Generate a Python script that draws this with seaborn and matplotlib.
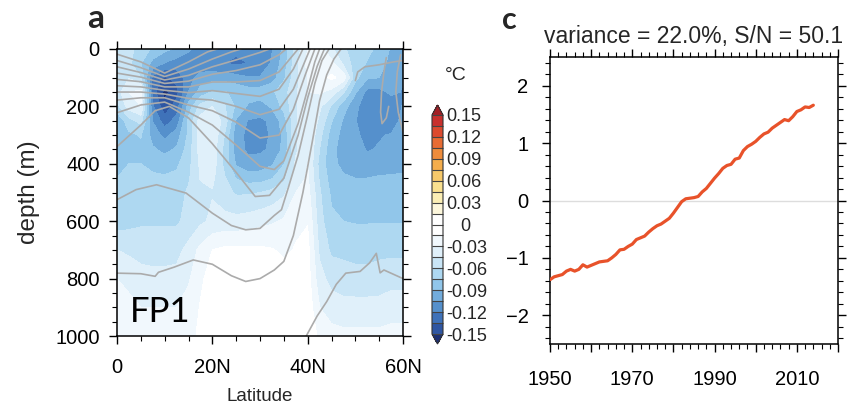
import numpy as np
import matplotlib
matplotlib.use("Agg")
import matplotlib.pyplot as plt
import seaborn as sns
from matplotlib.ticker import MultipleLocator, FixedLocator, FixedFormatter

# ---------------- data ----------------
lats = [0, 2.5, 5, 7.5, 10, 12.5, 15, 17.5, 20, 22.5, 25, 27.5, 30, 32.5, 35,
        37.5, 40, 42.5, 45, 47.5, 50, 52.5, 55, 57.5, 60]
depths = [0, 50, 100, 150, 200, 250, 300, 350, 400, 450, 500, 600, 700, 800, 900, 1000]
# temperature anomaly pattern FP1, in 0.001 degC (rows = depths, cols = lats)
fp1_mK = [
    [-52, -56, -66, -78, -86, -93, -103, -110, -113, -116, -118, -118, -116, -106, -86, -55, -30, -25, -42, -58, -66, -72, -78, -92, -100],
    [-52, -56, -74, -95, -106, -112, -113, -116, -118, -120, -122, -120, -116, -103, -83, -50, -25, -18, -25, -48, -68, -76, -82, -96, -104],
    [-50, -46, -60, -125, -138, -130, -112, -98, -96, -96, -100, -104, -104, -97, -78, -50, -30, -22, -12, -20, -70, -88, -90, -96, -104],
    [-52, -30, -25, -128, -155, -140, -105, -84, -74, -74, -78, -83, -83, -78, -66, -48, -30, -28, -35, -58, -88, -110, -110, -102, -106],
    [-65, -38, -30, -118, -145, -128, -84, -55, -45, -58, -78, -92, -96, -88, -70, -48, -30, -42, -62, -84, -100, -118, -112, -114, -104],
    [-88, -66, -55, -106, -128, -114, -72, -38, -32, -50, -92, -106, -108, -102, -82, -48, -30, -48, -74, -92, -104, -116, -108, -114, -100],
    [-92, -78, -74, -96, -110, -98, -72, -38, -32, -60, -100, -108, -108, -104, -86, -48, -30, -55, -82, -95, -102, -110, -106, -104, -96],
    [-88, -80, -78, -88, -94, -88, -68, -38, -36, -64, -98, -108, -108, -102, -86, -48, -30, -60, -86, -96, -100, -106, -104, -100, -96],
    [-80, -75, -75, -78, -82, -78, -65, -42, -36, -64, -92, -100, -98, -92, -76, -42, -30, -65, -86, -94, -98, -100, -100, -96, -94],
    [-75, -70, -70, -73, -73, -71, -62, -44, -42, -58, -76, -82, -82, -76, -64, -38, -28, -62, -82, -88, -90, -90, -88, -88, -88],
    [-68, -62, -62, -66, -66, -66, -58, -50, -46, -54, -62, -62, -60, -56, -48, -30, -24, -58, -78, -82, -82, -82, -82, -82, -82],
    [-68, -65, -62, -62, -62, -62, -56, -48, -42, -40, -40, -38, -35, -32, -28, -18, -16, -54, -72, -75, -76, -76, -76, -76, -76],
    [-45, -48, -52, -52, -52, -50, -40, -26, -15, -12, -12, -12, -12, -14, -18, -14, -10, -48, -63, -64, -66, -66, -64, -64, -64],
    [-30, -34, -38, -40, -40, -40, -32, -18, -8, -5, -5, -5, -5, -5, -8, -10, -8, -40, -50, -53, -54, -54, -53, -50, -50],
    [-22, -26, -30, -30, -30, -30, -24, -14, -5, -5, -5, -5, -5, -5, -5, -5, -5, -30, -38, -40, -40, -40, -40, -38, -38],
    [-18, -20, -22, -22, -22, -22, -20, -12, -5, -5, -5, -5, -5, -5, -5, -5, -5, -18, -24, -26, -26, -26, -26, -24, -24],
]

# climatological isotherms (grey lines): latitude / depth of points along each line
iso_lat = [
    [0, 5, 10, 15, 19, 21],
    [0, 5, 10, 15, 20, 24, 26],
    [0, 5, 10, 15, 20, 25, 30, 32],
    [0, 5, 10, 15, 20, 25, 30, 34, 35.5],
    [0, 5, 10, 15, 20, 25, 30, 34, 36.5, 38],
    [0, 5, 10, 15, 20, 25, 30, 34, 37, 39],
    [0, 5, 10, 15, 20, 25, 30, 34, 37, 39, 40.5],
    [0, 5, 10, 15, 20, 25, 30, 34, 37, 39.5, 41.5],
    [0, 5, 10, 15, 20, 25, 30, 33, 35, 38, 40, 41.5, 42.5],
    [0, 5, 8, 11, 15, 20, 25, 29, 32, 35, 38, 40, 42, 43.5],
    [0, 4, 8.3, 14.5, 20, 24, 27, 30, 33, 34.5, 36, 38, 40, 41.5, 43, 44.5],
    [0, 5, 8, 8.7, 12, 16, 20, 24, 27, 30, 33, 35, 37, 39, 41, 42.5, 44, 45.5, 47],
    [39.7, 42, 44, 46, 48, 51, 53, 54.4, 55.2, 56, 58, 60],
    [50, 50.5, 52, 55, 58, 60],
    [56.5, 56, 55.5, 55.3, 55.6, 56.5, 57],
    [59.5, 58.8, 58.5, 59, 60],
]
iso_depth = [
    [18, 45, 84, 45, 10, 0],
    [40, 65, 96, 70, 35, 10, 0],
    [62, 82, 108, 92, 62, 38, 12, 0],
    [84, 98, 120, 112, 88, 75, 55, 20, 0],
    [106, 114, 132, 132, 115, 115, 110, 80, 30, 0],
    [128, 132, 144, 152, 145, 155, 165, 140, 70, 0],
    [150, 150, 157, 172, 178, 200, 229, 210, 140, 60, 0],
    [178, 170, 170, 195, 215, 255, 310, 300, 210, 90, 0],
    [222, 195, 185, 220, 265, 335, 409, 420, 390, 260, 140, 45, 0],
    [340, 265, 215, 200, 240, 330, 430, 514, 510, 450, 300, 170, 60, 0],
    [525, 490, 473, 502, 572, 615, 630, 625, 580, 560, 480, 370, 230, 120, 40, 0],
    [781, 783, 792, 778, 760, 735, 750, 790, 810, 800, 770, 740, 650, 500, 320, 180, 90, 35, 0],
    [1000, 930, 880, 820, 781, 775, 745, 712, 780, 770, 785, 800],
    [110, 80, 62, 55, 45, 40],
    [30, 80, 150, 220, 260, 240, 200],
    [20, 80, 150, 220, 290],
]

# PC time series
years = list(range(1950, 2015))
pc1 = [-1.38, -1.33, -1.31, -1.29, -1.23, -1.20, -1.23, -1.20, -1.12, -1.16,
       -1.13, -1.10, -1.07, -1.06, -1.05, -1.00, -0.94, -0.86, -0.85, -0.80,
       -0.76, -0.68, -0.65, -0.62, -0.55, -0.49, -0.44, -0.41, -0.36, -0.31,
       -0.22, -0.12, -0.02, 0.03, 0.04, 0.05, 0.07, 0.15, 0.21, 0.30,
       0.39, 0.47, 0.56, 0.61, 0.63, 0.72, 0.74, 0.87, 0.94, 0.98,
       1.03, 1.10, 1.16, 1.19, 1.26, 1.31, 1.36, 1.41, 1.39, 1.46,
       1.55, 1.58, 1.63, 1.62, 1.66]

cb_levels = [round(-0.15 + 0.015 * i, 3) for i in range(21)]
cb_ticks = [-0.15, -0.12, -0.09, -0.06, -0.03, 0, 0.03, 0.06, 0.09, 0.12, 0.15]
cb_ticklabels = ["-0.15", "-0.12", "-0.09", "-0.06", "-0.03", "   0",
                 "0.03", "0.06", "0.09", "0.12", "0.15"]
lat_ticks = [0, 20, 40, 60]
lat_ticklabels = ["0", "20N", "40N", "60N"]
year_ticks = [1950, 1970, 1990, 2010]

# ---------------- style ----------------
sns.set_theme(style="white")
plt.rcParams["font.family"] = ["Liberation Sans", "DejaVu Sans"]
plt.rcParams["axes.linewidth"] = 1.1

colors = ["#1c2f73",  # under
          "#2f56a2", "#3f72b9", "#5590cc", "#72acdc", "#91c6ea",
          "#aed8f1", "#c9e5f6", "#e0f0fa", "#f1f8fd", "#ffffff",
          "#ffffff", "#fdf7dc", "#fbeeb5", "#f9e08f", "#f7c96a",
          "#f4ad4c", "#ef8c3b", "#e86c33", "#dc4a2e", "#c8302d",
          "#a31f25"]  # over

fig = plt.figure(figsize=(8.59, 4.05), dpi=100)
ax1 = fig.add_axes([117 / 859, 69 / 405, 286 / 859, 287 / 405])
cax = fig.add_axes([432 / 859, 61 / 405, 11 / 859, 239 / 405])
ax2 = fig.add_axes([550 / 859, 61 / 405, 288 / 859, 287 / 405])

# ---- panel a ----
field = np.array(fp1_mK, dtype=float) / 1000.0
LAT, DEP = np.meshgrid(lats, depths)
cs = ax1.contourf(LAT, DEP, field, levels=cb_levels, colors=colors, extend="both")
for la, de in zip(iso_lat, iso_depth):
    sns.lineplot(x=la, y=de, ax=ax1, sort=False, estimator=None,
                 color="#ababab", lw=1.2, legend=False)
ax1.set_xlim(0, 60)
ax1.set_ylim(1000, 0)
ax1.xaxis.set_major_locator(FixedLocator(lat_ticks))
ax1.xaxis.set_major_formatter(FixedFormatter(lat_ticklabels))
ax1.xaxis.set_minor_locator(MultipleLocator(5))
ax1.yaxis.set_major_locator(MultipleLocator(200))
ax1.yaxis.set_minor_locator(MultipleLocator(50))
ax1.text(0.045, 0.05, "FP1", transform=ax1.transAxes, fontsize=25,
         family=["Lato", "DejaVu Sans"], color="black", va="baseline")

# ---- colorbar ----
cb = fig.colorbar(cs, cax=cax, ticks=cb_ticks, drawedges=True, extendfrac=0.045)
cb.ax.set_yticklabels(cb_ticklabels)
cb.ax.tick_params(length=0, labelsize=13, pad=2)
cb.outline.set_linewidth(0.8)
cb.outline.set_edgecolor("#333333")
cb.dividers.set_color("#444444")
cb.dividers.set_linewidth(0.8)
fig.text(456 / 859, 1 - 75 / 405, "°C", fontsize=14, ha="center", va="center")

# ---- panel c ----
ax2.axhline(0, color="#dddddd", lw=1.0, zorder=1)
sns.lineplot(x=years, y=pc1, ax=ax2, color="#e8522a", lw=2.3, zorder=3)
ax2.set_xlim(1950, 2020)
ax2.set_ylim(-2.5, 2.5)
ax2.xaxis.set_major_locator(MultipleLocator(10))
ax2.xaxis.set_major_formatter(
    plt.FuncFormatter(lambda v, p: str(int(round(v))) if int(round(v)) in year_ticks else ""))
ax2.xaxis.set_minor_locator(MultipleLocator(2))
ax2.yaxis.set_major_locator(MultipleLocator(1))
ax2.yaxis.set_minor_locator(MultipleLocator(0.2))
ax2.set_xlabel("")
ax2.set_ylabel("")

for ax in (ax1, ax2):
    ax.tick_params(which="both", direction="out", top=True, right=True,
                   bottom=True, left=True, colors="black", labelsize=14.5)
    ax.tick_params(which="major", length=6, width=1.0)
    ax.tick_params(which="minor", length=3.5, width=0.8)
    for sp in ax.spines.values():
        sp.set_color("black")
        sp.set_linewidth(1.1)

ax1.tick_params(axis="x", which="major", pad=10)
ax1.tick_params(axis="y", which="major", pad=6.5)
ax2.tick_params(axis="x", which="major", pad=13)
ax2.tick_params(axis="y", which="major", pad=9.5)
ax1.set_xlabel("Latitude", fontsize=13.5, labelpad=8)
ax1.set_ylabel("depth (m)", fontsize=17.5, labelpad=11)
ax2.set_title("variance = 22.0%, S/N = 50.1", fontsize=16.5, pad=10)

fig.text(87 / 859, 1 - 28 / 405, "a", fontsize=24, fontweight="bold",
         family=["Lato", "DejaVu Sans"], va="baseline")
fig.text(502 / 859, 1 - 29 / 405, "c", fontsize=22, fontweight="bold",
         family=["Lato", "DejaVu Sans"], va="baseline")

fig.savefig("out.png", dpi=100)
